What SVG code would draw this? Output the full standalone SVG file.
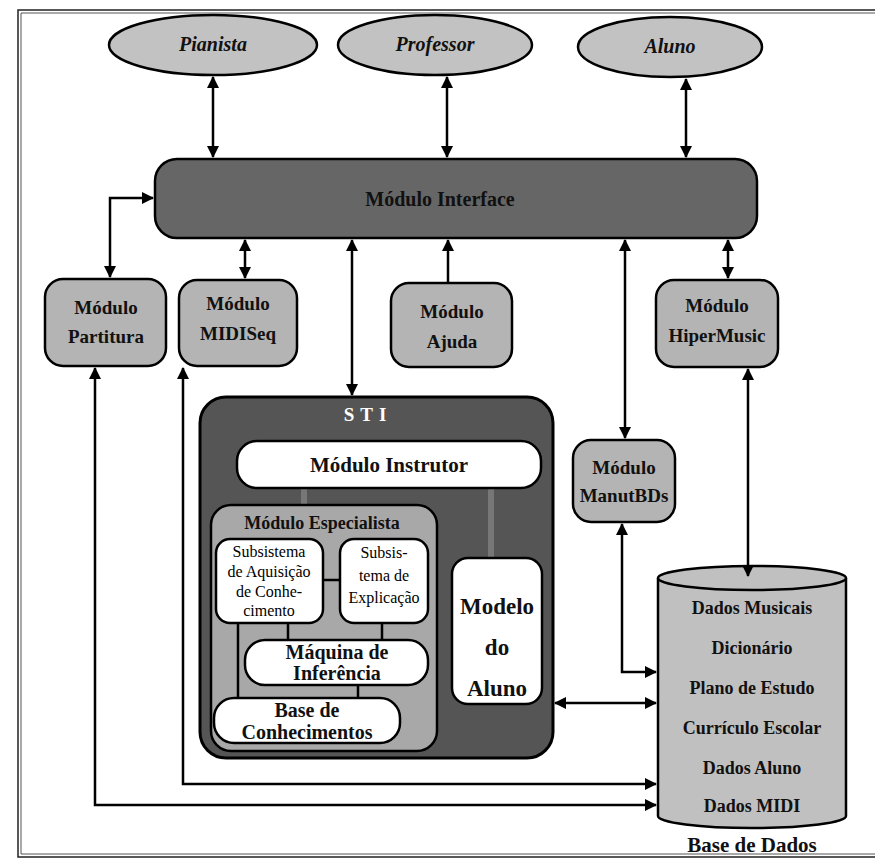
<svg xmlns="http://www.w3.org/2000/svg" width="875" height="864" viewBox="0 0 875 864">
<defs>
<marker id="ah" viewBox="0 0 12 12" refX="11" refY="6" markerWidth="12" markerHeight="12" markerUnits="userSpaceOnUse" orient="auto-start-reverse">
<path d="M0,0 L12,6 L0,12 Z" fill="#000"/>
</marker>
</defs>
<style>
.ell{fill:#c2c2c2;stroke:#000;stroke-width:2.5}
.mod{fill:#b4b4b4;stroke:#000;stroke-width:2.5}
.wht{fill:#fff;stroke:#000;stroke-width:2.5}
.lbl{font-family:"Liberation Serif",serif;font-weight:bold;text-anchor:middle;fill:#111}
.it{font-family:"Liberation Serif",serif;font-weight:bold;font-style:italic;text-anchor:middle;font-size:20px;fill:#111}
.sub{font-family:"Liberation Serif",serif;text-anchor:middle;font-size:16px;fill:#000}
.con{fill:none;stroke:#000;stroke-width:2.5}
.band{stroke:#777;stroke-width:6;fill:none}
</style>
<rect width="875" height="864" fill="#fff"/>
<g id="frame">
<path d="M875,10 L18,10 L18,857 L875,857" fill="none" stroke="#222" stroke-width="1.5"/>
<path d="M875,13 L21,13 L21,854 L875,854" fill="none" stroke="#555" stroke-width="1"/>
</g>
<g id="pianista"><ellipse class="ell" cx="213" cy="45" rx="104" ry="30"/><text class="it" x="213" y="51">Pianista</text></g>
<g id="professor"><ellipse class="ell" cx="435" cy="45" rx="97" ry="30"/><text class="it" x="435" y="51">Professor</text></g>
<g id="aluno"><ellipse class="ell" cx="670" cy="47" rx="92" ry="30"/><text class="it" x="670" y="53">Aluno</text></g>
<g id="interface"><rect x="155" y="159" width="602" height="79" rx="22" fill="#666" stroke="#000" stroke-width="2.5"/><text class="lbl" x="440" y="206" font-size="20">Módulo Interface</text></g>
<g id="partitura"><rect class="mod" x="45" y="279" width="121" height="87" rx="18"/><text class="lbl" x="106" y="314" font-size="19">Módulo</text><text class="lbl" x="106" y="343" font-size="19">Partitura</text></g>
<g id="midiseq"><rect class="mod" x="179" y="280" width="118" height="86" rx="18"/><text class="lbl" x="238" y="310" font-size="19">Módulo</text><text class="lbl" x="238" y="340" font-size="19">MIDISeq</text></g>
<g id="ajuda"><rect class="mod" x="391" y="283" width="121" height="84" rx="18"/><text class="lbl" x="452" y="318" font-size="19">Módulo</text><text class="lbl" x="452" y="348" font-size="19">Ajuda</text></g>
<g id="hipermusic"><rect class="mod" x="656" y="280" width="122" height="87" rx="18"/><text class="lbl" x="717" y="312" font-size="19">Módulo</text><text class="lbl" x="717" y="342" font-size="19">HiperMusic</text></g>
<g id="manutbds"><rect class="mod" x="573" y="440" width="102" height="82" rx="18"/><text class="lbl" x="624" y="474" font-size="19">Módulo</text><text class="lbl" x="624" y="502" font-size="19">ManutBDs</text></g>
<g id="sti">
<rect x="200" y="397" width="353" height="361" rx="26" fill="#555" stroke="#000" stroke-width="3"/>
<text class="lbl" x="368" y="421" font-size="19" style="fill:#fff" letter-spacing="6">STI</text>
<line class="band" x1="304" y1="488" x2="304" y2="506"/>
<line class="band" x1="491" y1="488" x2="491" y2="558"/>
<g id="instrutor"><rect class="wht" x="237" y="441" width="304" height="47" rx="20"/><text class="lbl" x="389" y="472" font-size="21">Módulo Instrutor</text></g>
<g id="especialista">
<rect x="211" y="505" width="226" height="246" rx="20" fill="#a8a8a8" stroke="#000" stroke-width="2.5"/>
<text class="lbl" x="322" y="529" font-size="18">Módulo Especialista</text>
<line class="con" x1="322" y1="580" x2="340" y2="580"/>
<line class="con" x1="288" y1="622" x2="288" y2="640"/>
<line class="con" x1="382" y1="622" x2="382" y2="640"/>
<line class="con" x1="358" y1="685" x2="358" y2="698"/>
<line class="con" x1="238" y1="622" x2="238" y2="698"/>
</g>
<g id="aquisicao"><rect class="wht" x="216" y="539" width="107" height="84" rx="14"/><text class="sub" x="269" y="557">Subsistema</text><text class="sub" x="269" y="577">de Aquisição</text><text class="sub" x="269" y="597">de Conhe-</text><text class="sub" x="269" y="616">cimento</text></g>
<g id="explicacao"><rect class="wht" x="340" y="539" width="88" height="84" rx="14"/><text class="sub" x="384" y="558">Subsis-</text><text class="sub" x="384" y="581">tema de</text><text class="sub" x="384" y="603">Explicação</text></g>
<g id="maquina"><rect class="wht" x="245" y="640" width="183" height="45" rx="20"/><text class="lbl" x="337" y="659" font-size="20">Máquina de</text><text class="lbl" x="337" y="680" font-size="20">Inferência</text></g>
<g id="base"><rect class="wht" x="214" y="698" width="186" height="45" rx="20"/><text class="lbl" x="307" y="717" font-size="20">Base de</text><text class="lbl" x="307" y="739" font-size="20">Conhecimentos</text></g>
<g id="modelo"><rect class="wht" x="452" y="558" width="90" height="146" rx="16"/><text class="lbl" x="497" y="614" font-size="23">Modelo</text><text class="lbl" x="497" y="655" font-size="23">do</text><text class="lbl" x="497" y="696" font-size="23">Aluno</text></g>
</g>
<g id="basedados">
<path d="M658,578 L658,816 A94,12 0 0 0 846,816 L846,578" fill="#c0c0c0" stroke="#000" stroke-width="2.5"/>
<ellipse cx="752" cy="578" rx="94" ry="12" fill="#c0c0c0" stroke="#000" stroke-width="2.5"/>
<text class="lbl" x="752" y="614" font-size="18">Dados Musicais</text>
<text class="lbl" x="752" y="654" font-size="18">Dicionário</text>
<text class="lbl" x="752" y="694" font-size="18">Plano de Estudo</text>
<text class="lbl" x="752" y="734" font-size="18">Currículo Escolar</text>
<text class="lbl" x="752" y="774" font-size="18">Dados Aluno</text>
<text class="lbl" x="752" y="812" font-size="18">Dados MIDI</text>
<text class="lbl" x="752" y="852" font-size="21">Base de Dados</text>
</g>
<g id="connectors">
<line class="con" x1="213" y1="77" x2="213" y2="157" marker-start="url(#ah)" marker-end="url(#ah)"/>
<line class="con" x1="447" y1="77" x2="447" y2="157" marker-start="url(#ah)" marker-end="url(#ah)"/>
<line class="con" x1="686" y1="79" x2="686" y2="157" marker-start="url(#ah)" marker-end="url(#ah)"/>
<path class="con" d="M110,277 L110,198 L153,198" marker-start="url(#ah)" marker-end="url(#ah)"/>
<line class="con" x1="245" y1="240" x2="245" y2="278" marker-start="url(#ah)" marker-end="url(#ah)"/>
<line class="con" x1="352" y1="240" x2="352" y2="395" marker-start="url(#ah)" marker-end="url(#ah)"/>
<line class="con" x1="448" y1="283" x2="448" y2="240" marker-end="url(#ah)"/>
<line class="con" x1="625" y1="240" x2="625" y2="438" marker-start="url(#ah)" marker-end="url(#ah)"/>
<line class="con" x1="728" y1="240" x2="728" y2="278" marker-start="url(#ah)" marker-end="url(#ah)"/>
<line class="con" x1="748" y1="369" x2="748" y2="576" marker-start="url(#ah)" marker-end="url(#ah)"/>
<path class="con" d="M622,524 L622,672 L656,672" marker-start="url(#ah)" marker-end="url(#ah)"/>
<line class="con" x1="555" y1="703" x2="656" y2="703" marker-start="url(#ah)" marker-end="url(#ah)"/>
<path class="con" d="M183,368 L183,784 L656,784" marker-start="url(#ah)" marker-end="url(#ah)"/>
<path class="con" d="M95,368 L95,805 L656,805" marker-start="url(#ah)" marker-end="url(#ah)"/>
</g>
</svg>
